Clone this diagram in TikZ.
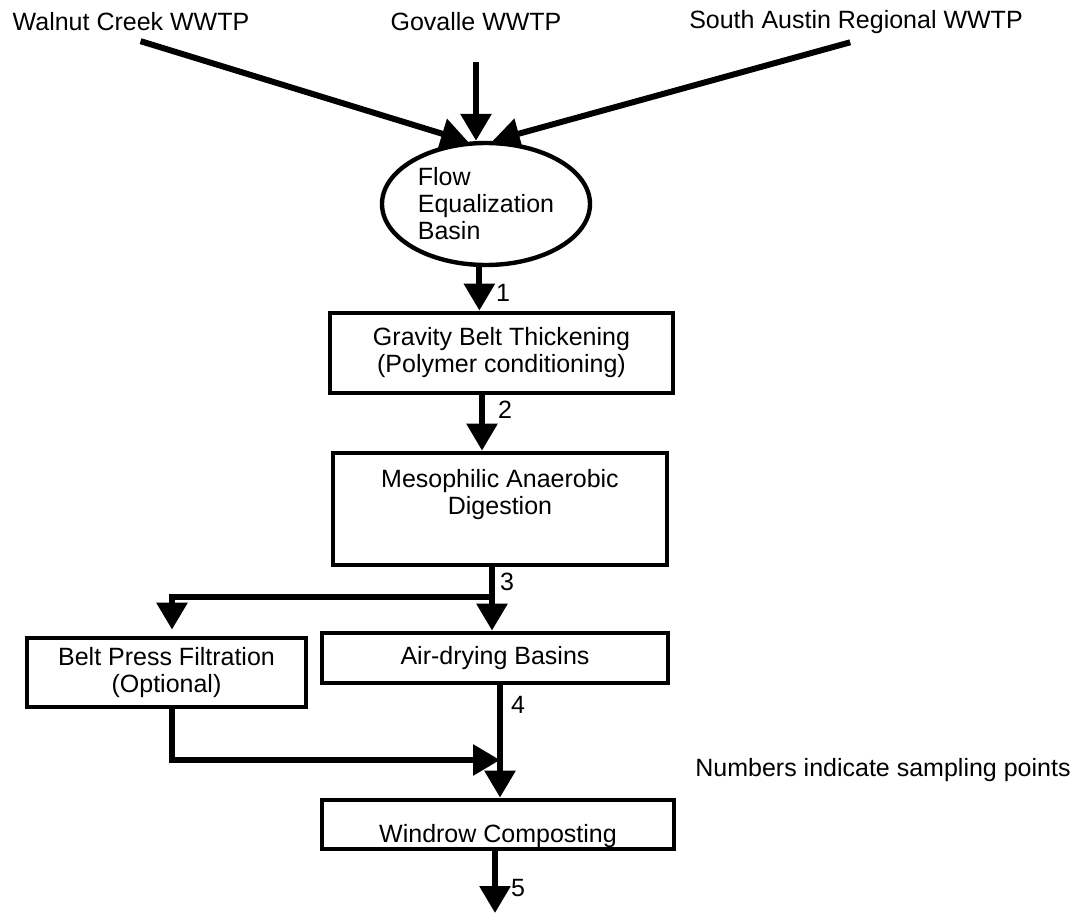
\documentclass[tikz,border=0pt]{standalone}
\usepackage{fontspec}
\setmainfont{Liberation Sans}
\usetikzlibrary{arrows.meta}
\usetikzlibrary{shapes.geometric}
\tikzset{
  every node/.style = {font = \fontsize{12.5}{13.5}\selectfont}
}
\tikzset{
    >={Triangle[length=13.5pt,width=15pt]}
}
\tikzset{
  box/.style = {draw, line width=2.4pt, align=center, inner sep=0pt},
  flow/.style = {->, line width=3pt},
  num/.style = {inner sep=0pt}
}

\begin{document}
\begin{tikzpicture}[x=0.5pt,y=-0.5pt]
\useasboundingbox (0,0) rectangle (1078,915);

% Sources
\node (walnut) at (131,22) {Walnut Creek WWTP};
\node (govalle) at (476,22) {Govalle WWTP};
\node (south) at (856,22) {South Austin Regional WWTP};

% Process units
\node[draw, ellipse, line width=2.2pt, minimum width=104pt, minimum height=61pt,
  align=left, inner sep=0pt] (basin) at (486,204) {Flow\\Equalization\\Basin};
\node[box, minimum width=171.5pt, minimum height=40pt] (gbt) at (501.5,353)
  {Gravity Belt Thickening\\(Polymer conditioning)};
\node[box, minimum width=167pt, minimum height=56pt] (mad) at (500,509)
  {Mesophilic Anaerobic\\Digestion\\\strut};
\node[box, minimum width=139.5pt, minimum height=34.5pt] (belt) at (166.5,672.5)
  {Belt Press Filtration\\(Optional)};
\node[box, minimum width=173pt, minimum height=25pt] (air) at (495,658)
  {Air-drying Basins};
\node[box, minimum width=176pt, minimum height=24.5pt, text height=17.5pt,
  text depth=0pt] (windrow) at (498,824.5) {Windrow Composting};

\node (note) at (883,770) {Numbers indicate sampling points};

% Inflows
\draw[flow, shorten <=5pt] (walnut.south) -- (basin.106);
\draw[flow, shorten <=12pt] (govalle.south) -- (govalle.south |- basin.north);
\draw[flow, shorten <=3pt] (south.south) -- (basin.84);

% Main line, with sampling points
\draw[flow] (basin.264) -- (basin.264 |- gbt.north);
\node[num] (p1) at (503,293) {1};
\draw[flow] ([xshift=-9.75pt]gbt.south) -- ([xshift=-9.75pt]gbt.south |- mad.north);
\node[num] (p2) at (505,410) {2};

\coordinate (split) at (492,597);
\draw[flow] ([xshift=-4pt]mad.south) -- ([xshift=-4pt]mad.south |- air.north);
\draw[flow, shorten >=3pt] (split) -| ([xshift=2.75pt]belt.north);
\node[num] (p3) at (507,582) {3};

\coordinate (merge) at (500,760);
\draw[flow] ([xshift=2.5pt]air.south) -- ([xshift=2.5pt]air.south |- windrow.north);
\draw[flow] ([xshift=2.75pt]belt.south) |- (merge);
\node[num] (p4) at (518,705) {4};

\coordinate (out) at (495,913);
\draw[flow] ([xshift=-1.5pt]windrow.south) -- (out);
\node[num] (p5) at (518,888) {5};
\end{tikzpicture}
\end{document}
